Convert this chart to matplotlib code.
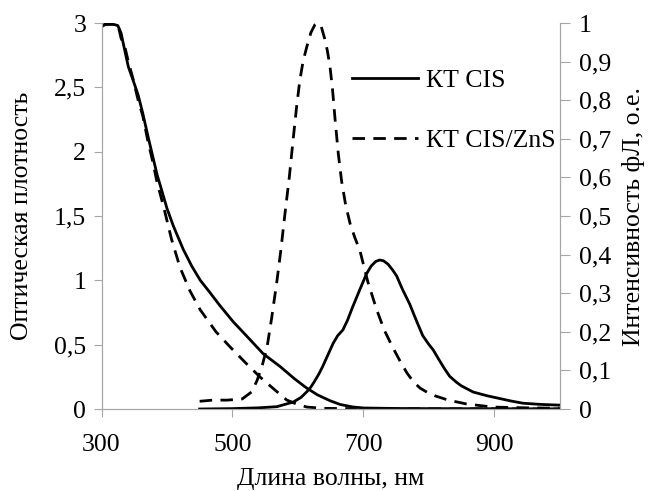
import matplotlib
matplotlib.use("Agg")
import matplotlib.pyplot as plt
from matplotlib.ticker import FuncFormatter

plt.rcParams['font.family'] = 'serif'
plt.rcParams['font.serif'] = ['Liberation Serif', 'Times New Roman', 'DejaVu Serif']

# absorption, QD CIS (left axis)
abs_cis_nm = [300, 306, 312, 318, 325, 330, 335, 341, 348, 356, 363, 371, 378, 385,
              392, 400, 410, 425, 438, 451, 465, 480, 501, 525, 547, 573, 595,
              613, 630, 649, 665, 684, 700, 750, 800, 900, 1000]
abs_cis = [2.97, 2.99, 2.99, 2.99, 2.98, 2.92, 2.80, 2.66, 2.56, 2.44, 2.30, 2.12,
           1.97, 1.82, 1.70, 1.56, 1.42, 1.24, 1.11, 1.00, 0.91, 0.81, 0.68,
           0.55, 0.43, 0.33, 0.235, 0.165, 0.11, 0.065, 0.035, 0.016, 0.008,
           0.004, 0.003, 0.002, 0.001]

# absorption, QD CIS/ZnS (left axis)
abs_zns_nm = [300, 306, 312, 318, 325, 330, 335, 341, 348, 356, 363, 371, 378, 385,
              395, 407, 420, 435, 451, 475, 497, 520, 542, 560, 583, 600, 614,
              640, 700, 800, 900, 1000]
abs_zns = [2.98, 2.99, 2.99, 2.99, 2.99, 2.88, 2.83, 2.70, 2.57, 2.40, 2.28, 2.08,
           1.93, 1.76, 1.57, 1.32, 1.10, 0.92, 0.77, 0.60, 0.48, 0.36, 0.25, 0.17,
           0.07, 0.035, 0.015, 0.005, 0.002, 0.001, 0.001, 0.0]

# photoluminescence, QD CIS (right axis)
pl_cis_nm = [450, 500, 540, 568, 593, 605, 614, 620, 625, 632, 638, 646, 654, 661,
             669, 676, 684, 695, 705, 712, 719, 725, 731, 738, 745, 751, 760, 771,
             781, 791, 800, 807, 815, 824, 832, 842, 850, 868, 890, 909, 925, 944,
             970, 1000]
pl_cis = [0.0, 0.001, 0.003, 0.006, 0.018, 0.03, 0.045, 0.057, 0.07, 0.09, 0.11,
          0.14, 0.17, 0.19, 0.205, 0.23, 0.265, 0.31, 0.35, 0.37, 0.382, 0.386,
          0.384, 0.375, 0.36, 0.345, 0.31, 0.272, 0.23, 0.19, 0.168, 0.153, 0.13,
          0.105, 0.085, 0.07, 0.06, 0.044, 0.034, 0.027, 0.021, 0.015, 0.012, 0.01]

# photoluminescence, QD CIS/ZnS (right axis)
pl_zns_nm = [450, 470, 492, 515, 530, 538, 546, 553, 560, 568, 574, 580, 587, 593,
             598, 603, 608, 614, 620, 626, 631, 636, 641, 645, 649, 653, 657, 662,
             667, 673, 680, 687, 695, 707, 720, 732, 745, 756, 767, 777, 787, 798,
             810, 830, 858, 898, 950, 1000]
pl_zns = [0.02, 0.023, 0.023, 0.026, 0.045, 0.075, 0.115, 0.16, 0.235, 0.33, 0.41,
          0.50, 0.60, 0.70, 0.78, 0.85, 0.90, 0.94, 0.975, 0.995, 1.0, 0.99, 0.96,
          0.93, 0.89, 0.83, 0.75, 0.66, 0.59, 0.53, 0.48, 0.445, 0.41, 0.33, 0.26,
          0.205, 0.16, 0.125, 0.093, 0.07, 0.054, 0.043, 0.034, 0.023, 0.013,
          0.005, 0.003, 0.002]

gray = '#a6a6a6'
fs = 18.5
lw = 2.0
dash = (4.5, 3)

fig = plt.figure(figsize=(6.5, 4.91), dpi=100)
ax = fig.add_axes([101.5 / 650, 1 - 409 / 491, 458 / 650, 386 / 491])
ax2 = ax.twinx()

ax.plot(abs_cis_nm, abs_cis, color='black', lw=lw)
ax.plot(abs_zns_nm, abs_zns, color='black', lw=lw, ls=(0, dash))
ax2.plot(pl_cis_nm, pl_cis, color='black', lw=lw, label='КТ CIS')
ax2.plot(pl_zns_nm, pl_zns, color='black', lw=lw, ls=(0, dash), label='КТ CIS/ZnS')

ax.set_xlim(300, 1000)
ax.set_ylim(0, 3)
ax2.set_ylim(0, 1)
ax.set_xticks([300, 500, 700, 900])
ax.set_yticks([0, 0.5, 1, 1.5, 2, 2.5, 3])
ax2.set_yticks([i / 10 for i in range(11)])

comma = FuncFormatter(lambda v, p: f'{v:g}'.replace('.', ','))
ax.yaxis.set_major_formatter(comma)
ax2.yaxis.set_major_formatter(comma)

for a in (ax, ax2):
    for s in a.spines.values():
        s.set_color(gray)
    a.spines['top'].set_visible(False)
ax.tick_params(axis='both', direction='out', length=6, color=gray,
               labelsize=fs, pad=5)
ax.tick_params(axis='x', pad=12)
ax2.tick_params(axis='y', direction='out', length=7, color=gray,
                labelsize=fs, pad=7)

ax.set_xlabel('Длина волны, нм', fontsize=fs, labelpad=9)
ax.set_ylabel('Оптическая плотность', fontsize=fs, labelpad=15)
ax2.set_ylabel('Интенсивность фЛ, о.е.', fontsize=fs, labelpad=8)

ax2.legend(loc='upper left', bbox_to_anchor=(0.5235, 0.907), frameon=False,
           fontsize=fs, handlelength=2.6, handletextpad=0.3, labelspacing=1.42,
           borderaxespad=0)

fig.savefig('out.png', dpi=100)
